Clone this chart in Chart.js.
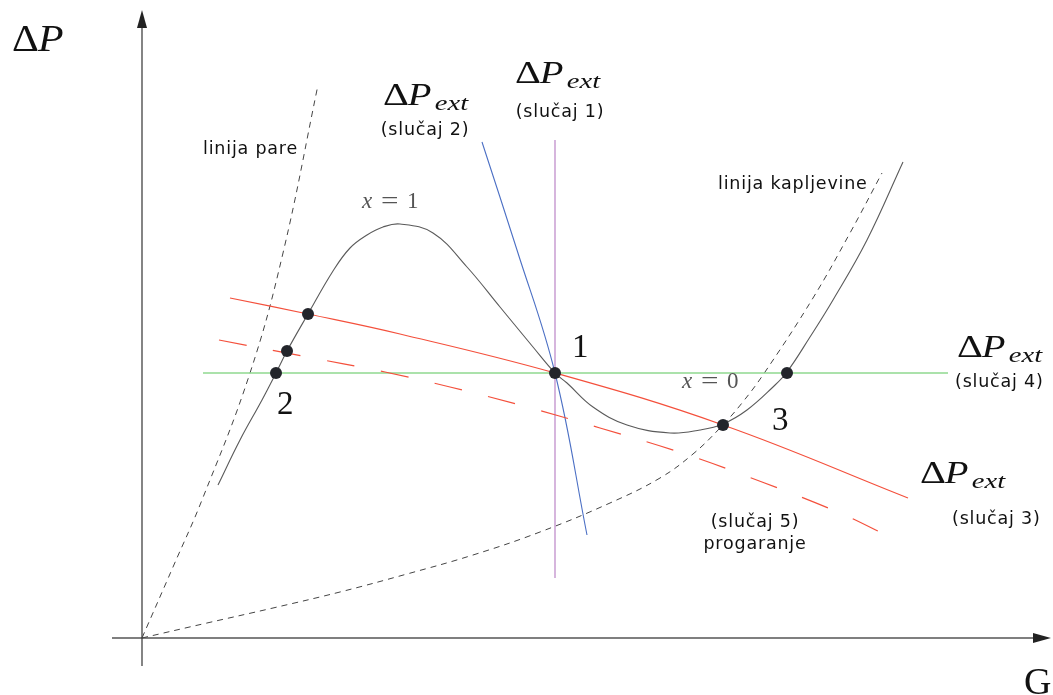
<!DOCTYPE html>
<html>
<head>
<meta charset="utf-8">
<title>Karakteristika ΔP – G</title>
<script src="https://cdn.jsdelivr.net/npm/chart.js@4/dist/chart.umd.min.js"></script>
<style>
  body { margin: 0; background: #fff; }
  #wrap { width: 1053px; height: 695px; }
</style>
</head>
<body>
<div id="wrap"><canvas id="diagram"></canvas></div>
<script>
// all values measured from the origin: G to the right, ΔP upwards

// internal characteristic (solid gray curve)
const curveG = [76, 98, 120, 134, 145, 166, 191, 208, 225, 241, 258, 291, 325, 358, 391, 413,
  425, 451, 485, 528, 558, 581, 605, 631, 645, 668, 691, 725, 761];
const curveP = [153, 198, 238, 265, 287, 324, 367, 390, 403, 411, 414, 405, 371, 331, 291, 265,
  255, 231, 213, 205, 208, 214, 228, 251, 266, 301, 338, 398, 476];

// linija pare (dashed)
const vapourG = [0, 31, 60, 108, 141, 176];
const vapourP = [0, 71, 138, 265, 385, 553];

// linija kapljevine (dashed)
const liquidG = [0, 65, 131, 198, 265, 331, 398, 468, 518, 551, 578, 600, 623, 671, 708, 740];
const liquidP = [0, 15, 30, 46, 64, 83, 106, 135, 160, 184, 210, 235, 266, 340, 405, 465];

// external characteristics
const case3G = [88, 166, 258, 413, 581, 766];
const case3P = [340, 324, 304, 265, 213, 140];
const case5G = [77, 160, 243, 308, 378, 458, 540, 620, 698, 748];
const case5P = [298, 282, 266, 251, 233, 210, 185, 156, 125, 101];
const case4G = [61, 806];
const case4P = [265, 265];
const case2G = [340, 375, 413, 445];
const case2P = [496, 388, 265, 103];
const case1G = [413, 413];
const case1P = [498, 60];

// operating points
const dotG = [134, 145, 166, 413, 581, 645];
const dotP = [265, 287, 324, 265, 213, 265];

// axis extents
const axisG = [-30, 909];
const axisP = [-28, 628];

// text: [text, G, ΔP, kind, align]
const labels = [
  ['ΔP', -130, 587, 'bigmath', 'left'],
  ['G', 882, -56, 'axis', 'left'],
  ['ext', 373, 555, 'pext', 'left'],
  ['(slučaj 1)', 418, 521, 'sans', 'center'],
  ['ext', 241, 533, 'pext', 'left'],
  ['(slučaj 2)', 283, 503, 'sans', 'center'],
  ['ext', 815, 281, 'pext', 'left'],
  ['(slučaj 4)', 813, 251, 'sans', 'left'],
  ['ext', 778, 155, 'pext', 'left'],
  ['(slučaj 3)', 810, 114, 'sans', 'left'],
  ['(slučaj 5)', 613, 111, 'sans', 'center'],
  ['progaranje', 613, 89, 'sans', 'center'],
  ['linija pare', 61, 484, 'sans', 'left'],
  ['linija kapljevine', 576, 449, 'sans', 'left'],
  ['x = 1', 220, 430, 'var', 'left'],
  ['x = 0', 540, 250, 'var', 'left'],
  ['1', 430, 281, 'num', 'left'],
  ['2', 135, 224, 'num', 'left'],
  ['3', 630, 208, 'num', 'left'],
];

const pts = (gs, ps) => gs.map((g, i) => ({ x: g, y: ps[i] }));

function line(data, color, width, dash, tension) {
  return {
    data,
    showLine: true,
    borderColor: color,
    borderWidth: width,
    borderDash: dash || [],
    tension: tension || 0,
    pointRadius: 0,
    fill: false,
  };
}

const serif = '"Liberation Serif", "DejaVu Serif", serif';
const sans = '"DejaVu Sans", "Liberation Sans", sans-serif';

function stretched(ctx, text, x, y, sx) {
  ctx.save();
  ctx.translate(x, y);
  ctx.scale(sx, 1);
  ctx.fillText(text, 0, 0);
  ctx.restore();
}

function drawLabel(ctx, text, px, py, kind, align) {
  ctx.textBaseline = 'alphabetic';
  ctx.fillStyle = '#111';
  if (kind === 'pext') {
    const s = 31;
    ctx.textAlign = 'left';
    ctx.font = `${s}px ${serif}`;
    stretched(ctx, 'Δ', px, py, 1.3);
    ctx.font = `italic ${s}px ${serif}`;
    stretched(ctx, 'P', px + s * 0.8, py, 1.25);
    ctx.font = `italic ${Math.round(s * 0.72)}px ${serif}`;
    stretched(ctx, text, px + s * 1.67, py + s * 0.17, 1.3);
    return;
  }
  if (kind === 'bigmath') {
    const s = 38;
    ctx.textAlign = 'left';
    ctx.font = `${s}px ${serif}`;
    stretched(ctx, 'Δ', px, py, 1.1);
    ctx.font = `italic ${s}px ${serif}`;
    stretched(ctx, 'P', px + 26, py, 1.1);
    return;
  }
  if (kind === 'var') {
    ctx.fillStyle = '#555';
    const [v, eq, n] = text.split(' ');
    ctx.textAlign = 'left';
    ctx.font = `italic 23px ${serif}`;
    ctx.fillText(v, px, py);
    ctx.font = `23px ${serif}`;
    stretched(ctx, eq, px + 19, py, 1.35);
    ctx.fillText(n, px + 45, py);
    return;
  }
  ctx.textAlign = align;
  if (kind === 'sans') {
    ctx.font = `17.5px ${sans}`;
    ctx.letterSpacing = '0.8px';
  } else if (kind === 'num') {
    ctx.font = `33px ${serif}`;
  } else if (kind === 'axis') {
    ctx.font = `38px ${serif}`;
  }
  ctx.fillText(text, px, py);
  ctx.letterSpacing = '0px';
}

const decorPlugin = {
  id: 'decor',
  beforeDatasetsDraw(chart) {
    const { ctx, scales: { x, y } } = chart;
    const x0 = x.getPixelForValue(0);
    const y0 = y.getPixelForValue(0);
    const xEnd = x.getPixelForValue(axisG[1]);
    const yEnd = y.getPixelForValue(axisP[1]);
    ctx.save();
    ctx.strokeStyle = '#555';
    ctx.lineWidth = 1.6;
    ctx.beginPath();
    ctx.moveTo(x.getPixelForValue(axisG[0]), y0);
    ctx.lineTo(xEnd - 12, y0);
    ctx.stroke();
    ctx.strokeStyle = '#333';
    ctx.lineWidth = 1.2;
    ctx.beginPath();
    ctx.moveTo(x0, y.getPixelForValue(axisP[0]));
    ctx.lineTo(x0, yEnd + 12);
    ctx.stroke();
    ctx.fillStyle = '#222';
    ctx.beginPath();
    ctx.moveTo(xEnd, y0);
    ctx.lineTo(xEnd - 18, y0 - 5);
    ctx.lineTo(xEnd - 18, y0 + 5);
    ctx.closePath();
    ctx.fill();
    ctx.beginPath();
    ctx.moveTo(x0, yEnd);
    ctx.lineTo(x0 - 5, yEnd + 18);
    ctx.lineTo(x0 + 5, yEnd + 18);
    ctx.closePath();
    ctx.fill();
    ctx.restore();
  },
  afterDatasetsDraw(chart) {
    const { ctx, scales: { x, y } } = chart;
    ctx.save();
    for (const [text, g, p, kind, align] of labels) {
      drawLabel(ctx, text, x.getPixelForValue(g), y.getPixelForValue(p), kind, align);
    }
    ctx.restore();
  },
};

const datasets = [
  {
    data: pts(dotG, dotP),
    pointRadius: 6,
    pointBackgroundColor: '#23252b',
    pointBorderWidth: 0,
    showLine: false,
  },
  line(pts(curveG, curveP), '#5a5a5a', 1.1, null, 0.4),
  line(pts(case3G, case3P), '#f4503c', 1.2, null, 0.4),
  line(pts(case5G, case5P), '#f4503c', 1.2, [28, 27], 0.4),
  line(pts(case4G, case4P), '#8fd98f', 1.6),
  line(pts(case2G, case2P), '#4b6fc4', 1.1, null, 0.4),
  line(pts(case1G, case1P), '#b57ac2', 1.1),
  line(pts(vapourG, vapourP), '#444', 1, [6, 5], 0.4),
  line(pts(liquidG, liquidP), '#444', 1, [6, 5], 0.4),
];

new Chart(document.getElementById('diagram').getContext('2d'), {
  type: 'scatter',
  data: { datasets },
  options: {
    responsive: true,
    maintainAspectRatio: false,
    animation: false,
    layout: { padding: 0, autoPadding: false },
    plugins: { legend: { display: false }, tooltip: { enabled: false } },
    scales: {
      x: { type: 'linear', min: -142, max: 911, display: false },
      y: { type: 'linear', min: -57, max: 638, display: false },
    },
  },
  plugins: [decorPlugin],
});
</script>
</body>
</html>
